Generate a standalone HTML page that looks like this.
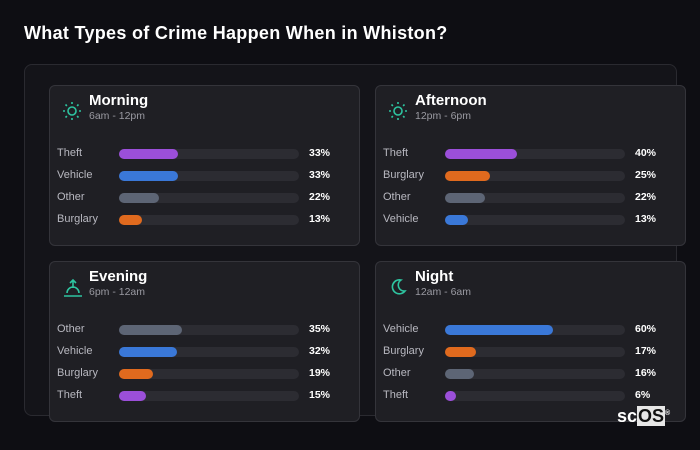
<!DOCTYPE html>
<html><head><meta charset="utf-8"><style>
body{margin:0;width:700px;height:450px;background:#0e0e13;font-family:"Liberation Sans",sans-serif;overflow:hidden;position:relative;color:#fff}
.title{position:absolute;left:24px;top:23px;font-size:18px;letter-spacing:0.3px;font-weight:bold;color:#fff}
.panel{position:absolute;left:24px;top:64px;width:651px;height:350px;border:1px solid #2a2a30;border-radius:8px;background:#141419}
.card{position:absolute;width:309px;height:159px;border:1px solid #34343a;border-radius:6px;background:#1f1f24}
.card .h{position:absolute;left:39px;top:6px;font-size:15px;font-weight:bold}
.card .s{position:absolute;left:39px;top:24px;font-size:10.5px;color:#9a9aa2}
.card .ic{position:absolute;left:12px;top:15px}
.row{position:absolute;left:7px;height:14px;width:300px}
.row .l{position:absolute;left:0;top:0;font-size:11px;color:#b8b8c0}
.row .t{position:absolute;left:62px;top:2px;width:180px;height:10px;border-radius:5px;background:#2c2c32}
.row .b{position:absolute;left:0;top:0;height:10px;border-radius:5px}
.row .p{position:absolute;left:252px;top:0;font-size:10.5px;font-weight:bold;color:#fff}
.logo{position:absolute;left:617px;top:406px;font-size:18px;font-weight:bold;color:#fff}
.logo span{background:#e6e6e6;color:#111;padding:0 1px}
</style></head><body>
<div class="title">What Types of Crime Happen When in Whiston?</div>
<div class="panel"></div>
<div id="cards"></div>
<div class="logo">sc<span>OS</span><sup style="font-size:7px">®</sup></div>
<script>
const periods=["Morning","Afternoon","Evening","Night"];
const ranges=["6am - 12pm","12pm - 6pm","6pm - 12am","12am - 6am"];
const cats=[["Theft","Vehicle","Other","Burglary"],["Theft","Burglary","Other","Vehicle"],["Other","Vehicle","Burglary","Theft"],["Vehicle","Burglary","Other","Theft"]];
const vals=[[33,33,22,13],[40,25,22,13],[35,32,19,15],[60,17,16,6]];
const colors={Theft:"#9b4fd9",Vehicle:"#3a78d8",Other:"#5d6575",Burglary:"#e06a1e"};
const pos=[[49,85],[375,85],[49,261],[375,261]];
const x=v=>180*v/100;
const icons=[
'<svg width="20" height="20" viewBox="0 0 20 20"><circle cx="10" cy="10" r="4" fill="none" stroke="#2ec4a0" stroke-width="1.6"/><g stroke="#2ec4a0" stroke-width="1.6"><path d="M10 1v2M10 17v2M1 10h2M17 10h2M3.5 3.5l1.4 1.4M15.1 15.1l1.4 1.4M3.5 16.5l1.4-1.4M15.1 4.9l1.4-1.4"/></g></svg>',
null,
'<svg width="22" height="22" viewBox="0 0 22 22"><g stroke="#2ec4a0" stroke-width="1.6" fill="none"><path d="M2 19h18M5 16a6 6 0 0 1 12 0M11 11V3M8 6l3-3 3 3"/></g></svg>',
'<svg width="20" height="20" viewBox="0 0 20 20"><path d="M13 3a7 7 0 1 0 4 11A6 6 0 0 1 13 3z" fill="none" stroke="#2ec4a0" stroke-width="1.6"/></svg>'];
icons[1]=icons[0];
const root=document.getElementById('cards');
periods.forEach((p,i)=>{
 const c=document.createElement('div');c.className='card';
 
 
 c.style.left=pos[i][0]+'px';c.style.top=pos[i][1]+'px';
 c.innerHTML='<div class="ic">'+icons[i]+'</div><div class="h">'+p+'</div><div class="s">'+ranges[i]+'</div>';
 cats[i].forEach((k,j)=>{
  const r=document.createElement('div');r.className='row';
  
  
  r.style.top=(61+j*22)+'px';
  r.innerHTML='<div class="l">'+k+'</div><div class="t"><div class="b" style="width:'+x(vals[i][j])+'px;background:'+colors[k]+'"></div></div><div class="p">'+vals[i][j]+'%</div>';
  c.appendChild(r);
 });
 root.appendChild(c);
});
</script>
</body></html>
